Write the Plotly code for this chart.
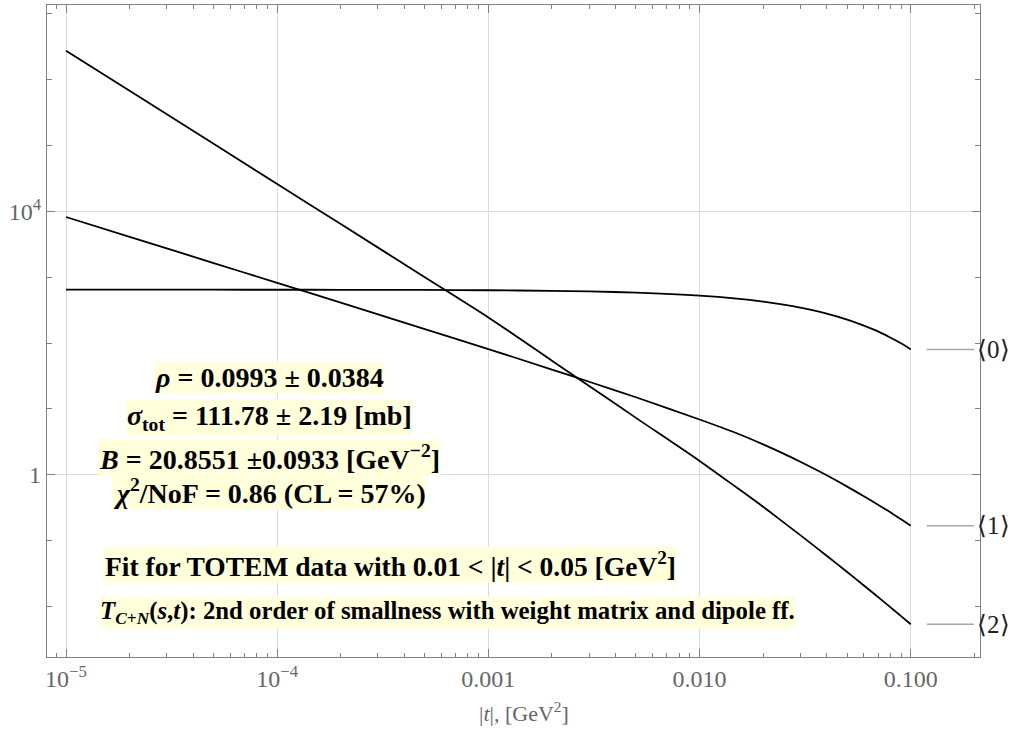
import math
import plotly.graph_objects as go

# |t| sample points, GeV^2
t_vals = [1e-5, 2e-5, 5e-5, 1e-4, 2e-4, 5e-4, 1e-3, 2e-3, 3e-3, 5e-3,
          0.01, 0.015, 0.02, 0.025, 0.03, 0.04, 0.05, 0.06, 0.07, 0.08, 0.09, 0.1]

# <0>: nuclear term
order0 = [645, 645, 645, 644, 643, 640, 633, 620, 608, 582,
          524, 472, 425, 383, 345, 280, 227, 184, 150, 121, 99, 80]
# <1>: interference term
order1 = [8200, 4100, 1640, 820, 410, 163, 81, 39.5, 25.8, 15.0,
          6.9, 4.26, 2.89, 2.09, 1.57, 0.98, 0.66, 0.47, 0.35, 0.27, 0.21, 0.168]
# <2>: Coulomb term
order2 = [2.75e6, 6.8e5, 1.06e5, 2.6e4, 6400, 1000, 245, 54, 22.3, 7.3,
          1.62, 0.638, 0.326, 0.189, 0.121, 0.0588, 0.0333, 0.0208, 0.0139,
          0.00975, 0.00713, 0.00537]

series = [("⟨0⟩", order0), ("⟨1⟩", order1), ("⟨2⟩", order2)]

x_major = [1e-5, 1e-4, 1e-3, 1e-2, 1e-1]
x_major_text = ["10<sup>−5</sup>", "10<sup>−4</sup>", "0.001", "0.010", "0.100"]
y_major = [1, 1e4]
y_major_text = ["1", "10<sup>4</sup>"]

info_lines = [
    "<b><i>ρ</i> = 0.0993 ± 0.0384</b>",
    "<b><i>σ</i><sub>tot</sub> = 111.78 ± 2.19 [mb]</b>",
    "<b><i>B</i> = 20.8551 ±0.0933 [GeV<sup>−2</sup>]</b>",
    "<b><i>χ</i><sup>2</sup>/NoF = 0.86 (CL = 57%)</b>",
]
fit_note = "<b>Fit for TOTEM data with 0.01 &lt; |<i>t</i>| &lt; 0.05 [GeV<sup>2</sup>]</b>"
model_note = ("<b><i>T</i><sub><i>C</i>+<i>N</i></sub>(<i>s</i>,<i>t</i>): "
              "2nd order of smallness with weight matrix and dipole ff.</b>")
x_title = "|<i>t</i>|, [GeV<sup>2</sup>]"

SERIF = "Liberation Serif, Times New Roman, serif"
AXIS_GREY = "#808080"
TEXT_GREY = "#666666"
GRID = "#dcdcdc"
NOTE_BG = "#ffffdc"

fig = go.Figure()
for name, vals in series:
    fig.add_trace(go.Scatter(
        x=t_vals, y=vals, mode="lines", name=name,
        line=dict(color="black", width=1.8, shape="spline", smoothing=0.8),
        showlegend=False,
    ))

# curve tags on the right with short grey leaders
for name, vals in series:
    y_end = vals[-1]
    fig.add_shape(type="line", xref="x", yref="y",
                  x0=10 ** -0.924, x1=10 ** -0.701, y0=y_end, y1=y_end,
                  line=dict(color="#a8a8a8", width=1.5))
    fig.add_annotation(xref="x", yref="y", x=-0.697, y=math.log10(y_end),
                       text=name, showarrow=False, xanchor="left",
                       font=dict(family=SERIF, size=25, color="#222222"))

info_y = [0.4294, 0.3666, 0.3067, 0.2531]
for txt, yy in zip(info_lines, info_y):
    fig.add_annotation(xref="paper", yref="paper", x=0.238, y=yy, text=txt,
                       showarrow=False, xanchor="center", yanchor="middle",
                       bgcolor=NOTE_BG, borderpad=0,
                       font=dict(family=SERIF, size=28, color="black"))

fig.add_annotation(xref="paper", yref="paper", x=0.3682, y=0.1426, text=fit_note,
                   showarrow=False, xanchor="center", yanchor="middle",
                   bgcolor=NOTE_BG, borderpad=0,
                   font=dict(family=SERIF, size=27.5, color="black"))
fig.add_annotation(xref="paper", yref="paper", x=0.4293, y=0.069, text=model_note,
                   showarrow=False, xanchor="center", yanchor="middle",
                   bgcolor=NOTE_BG, borderpad=0,
                   font=dict(family=SERIF, size=24.8, color="black"))

# x-axis title
fig.add_annotation(xref="paper", yref="paper", x=0.511, y=-0.0844, text=x_title,
                   showarrow=False, xanchor="center", yanchor="middle",
                   font=dict(family=SERIF, size=22, color=TEXT_GREY))

x_minor = [m * d for d in [1e-6, 1e-5, 1e-4, 1e-3, 1e-2, 1e-1] for m in range(2, 10)]
y_minor = [10.0 ** k for k in range(-3, 9) if k not in (0, 4)]

fig.update_xaxes(
    type="log", range=[-5.09, -0.672],
    tickmode="array", tickvals=x_major, ticktext=x_major_text,
    ticks="inside", ticklen=8, tickcolor=AXIS_GREY, tickwidth=1,
    showline=True, linecolor=AXIS_GREY, linewidth=1.2, mirror="allticks",
    showgrid=True, gridcolor=GRID, gridwidth=1, zeroline=False,
    tickfont=dict(family=SERIF, size=24, color=TEXT_GREY),
    minor=dict(tickmode="array", tickvals=x_minor, ticks="inside", ticklen=4,
               tickcolor=AXIS_GREY, showgrid=False),
)
fig.update_yaxes(
    type="log", range=[-2.768, 7.133],
    tickmode="array", tickvals=y_major, ticktext=y_major_text,
    ticks="inside", ticklen=8, tickcolor=AXIS_GREY, tickwidth=1,
    showline=True, linecolor=AXIS_GREY, linewidth=1.2, mirror="allticks",
    showgrid=True, gridcolor=GRID, gridwidth=1, zeroline=False,
    tickfont=dict(family=SERIF, size=24, color=TEXT_GREY),
    minor=dict(tickmode="array", tickvals=y_minor, ticks="inside", ticklen=5,
               tickcolor=AXIS_GREY, showgrid=False),
)

fig.update_layout(
    width=1012, height=729,
    margin=dict(l=47, r=32, t=5, b=72),
    paper_bgcolor="white", plot_bgcolor="white",
    showlegend=False,
)

fig.write_html("out.html")
